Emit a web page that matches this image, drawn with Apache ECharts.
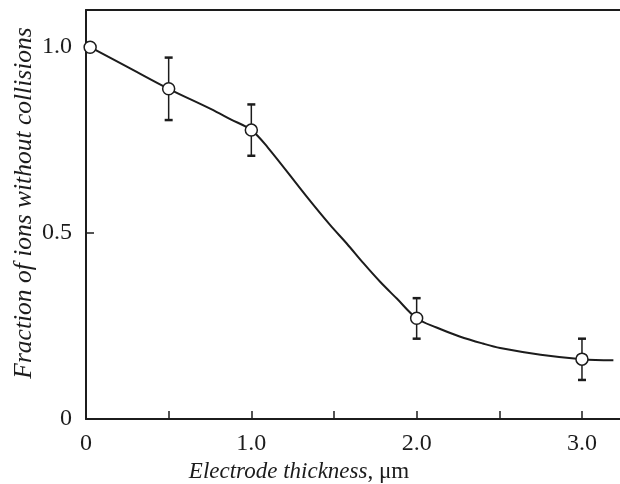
<!DOCTYPE html>
<html>
<head>
<meta charset="utf-8">
<script src="https://cdn.jsdelivr.net/npm/echarts@6/dist/echarts.min.js"></script>
<style>
  html, body { margin: 0; padding: 0; background: #fff; }
  #chart { width: 620px; height: 484px; }
</style>
</head>
<body>
<div id="chart"></div>
<script>
// fitted curve
var curveX = [0.025, 0.25, 0.5, 0.754, 0.875, 1.0, 1.1, 1.335, 1.476, 1.577, 1.678, 1.779, 1.88, 2.0, 2.12, 2.26, 2.4, 2.505, 2.75, 3.0, 3.19];
var curveY = [1.0, 0.947, 0.888, 0.834, 0.806, 0.777, 0.73, 0.598, 0.522, 0.472, 0.419, 0.369, 0.324, 0.271, 0.246, 0.222, 0.203, 0.191, 0.173, 0.161, 0.158];

// measured points with error bars
var pointX = [0.025, 0.5, 1.0, 2.0, 3.0];
var pointY = [1.0, 0.888, 0.777, 0.271, 0.161];
var errX = [0.5, 1.0, 2.0, 3.0];
var errLow = [0.804, 0.708, 0.216, 0.105];
var errHigh = [0.972, 0.846, 0.325, 0.216];

var xTicks = ['0', '1.0', '2.0', '3.0'];
var yTicks = ['0', '0.5', '1.0'];

var ink = '#1c1c1c';
var serif = 'Liberation Serif';

var chart = echarts.init(document.getElementById('chart'));

var curveData = curveX.map(function (x, i) { return [x, curveY[i]]; });
var pointData = pointX.map(function (x, i) { return [x, pointY[i]]; });
var errData = errX.map(function (x, i) { return [x, errLow[i], errHigh[i]]; });

chart.setOption({
  animation: false,
  grid: { left: 86, top: 10, right: 0, bottom: 65, outerBoundsMode: 'none' },
  xAxis: [{
    type: 'value',
    min: 0,
    max: 3.23,
    interval: 0.5,
    splitLine: { show: false },
    axisLine: { lineStyle: { color: ink, width: 2 } },
    axisTick: { inside: true, length: 8, lineStyle: { color: ink, width: 1.5 } },
    axisLabel: {
      color: ink, fontFamily: serif, fontSize: 24, margin: 13,
      showMaxLabel: false,
      formatter: function (v) {
        if (Math.abs(v - Math.round(v)) > 1e-6) return '';
        return xTicks[Math.round(v)] || '';
      }
    },
    name: '{i|Electrode thickness}{n|, μm}',
    nameLocation: 'middle',
    nameGap: 41,
    nameMoveOverlap: false,
    nameTextStyle: {
      padding: [0, 108, 0, 0],
      rich: {
        i: { fontFamily: serif, fontSize: 23, fontStyle: 'italic', color: ink },
        n: { fontFamily: serif, fontSize: 23, color: ink }
      }
    }
  }, {
    type: 'value',
    position: 'top',
    min: 0,
    max: 3.23,
    axisLine: { lineStyle: { color: ink, width: 2 } },
    axisTick: { show: false },
    axisLabel: { show: false },
    splitLine: { show: false }
  }],
  yAxis: {
    type: 'value',
    min: 0,
    max: 1.1,
    interval: 0.5,
    splitLine: { show: false },
    axisLine: { lineStyle: { color: ink, width: 2 } },
    axisTick: { inside: true, length: 8, lineStyle: { color: ink, width: 1.5 } },
    axisLabel: {
      color: ink, fontFamily: serif, fontSize: 24, margin: 14,
      showMaxLabel: false,
      formatter: function (v) {
        var k = Math.round(v / 0.5);
        if (Math.abs(v - k * 0.5) > 1e-6) return '';
        return yTicks[k] || '';
      }
    },
    name: 'Fraction of ions without collisions',
    nameLocation: 'middle',
    nameRotate: 90,
    nameGap: 49,
    nameMoveOverlap: false,
    nameTextStyle: {
      fontFamily: serif, fontSize: 25.5, fontStyle: 'italic', color: ink,
      padding: [0, 0, 0, 23]
    }
  },
  series: [{
    type: 'line',
    data: curveData,
    smooth: 0.35,
    showSymbol: false,
    lineStyle: { color: ink, width: 2 },
    z: 2
  }, {
    type: 'custom',
    data: errData,
    renderItem: function (params, api) {
      var lo = api.coord([api.value(0), api.value(1)]);
      var hi = api.coord([api.value(0), api.value(2)]);
      var w = 4;
      var style = { stroke: ink, lineWidth: 1.5 };
      var cap = { stroke: ink, lineWidth: 2.5 };
      return {
        type: 'group',
        children: [
          { type: 'line', shape: { x1: lo[0], y1: lo[1], x2: hi[0], y2: hi[1] }, style: style },
          { type: 'line', shape: { x1: lo[0] - w, y1: lo[1], x2: lo[0] + w, y2: lo[1] }, style: cap },
          { type: 'line', shape: { x1: hi[0] - w, y1: hi[1], x2: hi[0] + w, y2: hi[1] }, style: cap }
        ]
      };
    },
    z: 3
  }, {
    type: 'scatter',
    data: pointData,
    symbol: 'circle',
    symbolSize: 12,
    itemStyle: { color: '#fff', borderColor: ink, borderWidth: 1.5, opacity: 1 },
    z: 4
  }]
});
</script>
</body>
</html>
